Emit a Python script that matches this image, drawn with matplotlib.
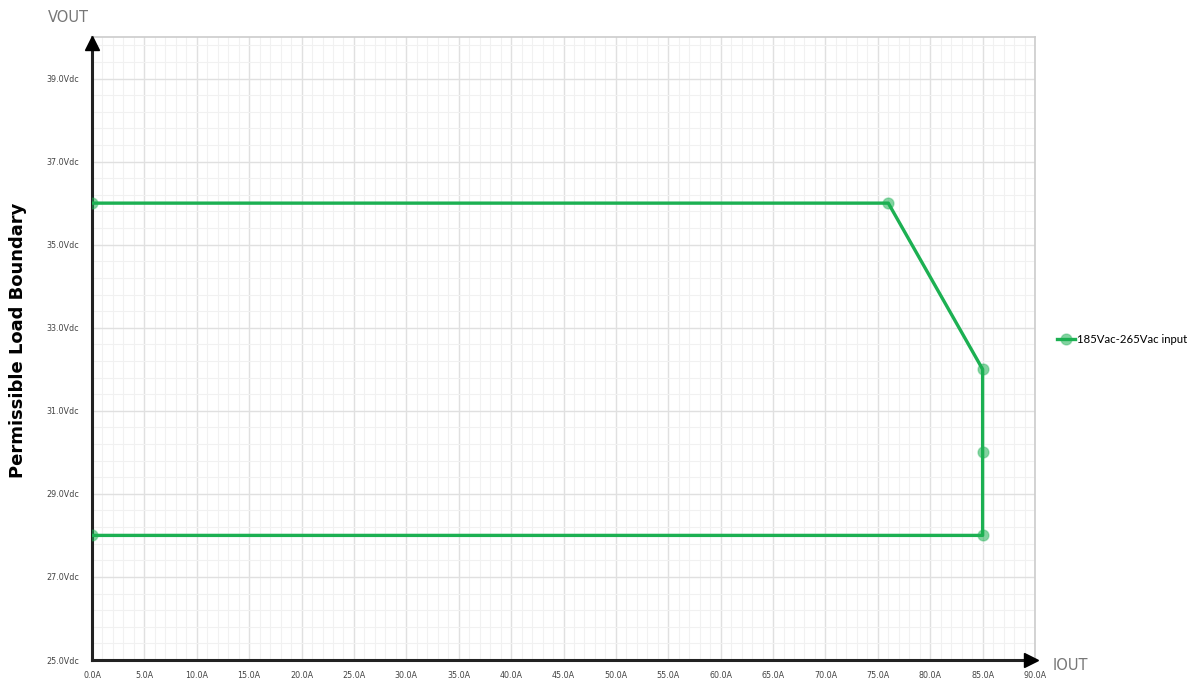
import matplotlib
matplotlib.use('Agg')
import matplotlib.pyplot as plt
import numpy as np

# boundary of the permissible load area
iout = [0.0, 76.0, 85.0, 85.0, 85.0, 0.0]
vout = [36.0, 36.0, 32.0, 30.0, 28.0, 28.0]
series_name = '185Vac-265Vac input'

x_ticks = [0, 5, 10, 15, 20, 25, 30, 35, 40, 45, 50, 55, 60, 65, 70, 75, 80, 85, 90]
y_ticks = [25, 27, 29, 31, 33, 35, 37, 39]
x_labels = ['%.1fA' % v for v in x_ticks]
y_labels = ['%.1fVdc' % v for v in y_ticks]

green = '#1cb052'

fig = plt.figure(figsize=(12.01, 6.79), dpi=100)
ax = fig.add_axes([92 / 1201, 1 - 660 / 679, (1035 - 92) / 1201, (660 - 37) / 679])

ax.plot(iout, vout, color=green, lw=2.4, marker='o', ms=8,
        markerfacecolor=(0.11, 0.69, 0.32, 0.55), markeredgecolor=(0.11, 0.69, 0.32, 0.3),
        label=series_name, zorder=3)

ax.set_xlim(0, 90)
ax.set_ylim(25, 40)
ax.set_xticks(x_ticks)
ax.set_xticklabels(x_labels)
ax.set_yticks(y_ticks)
ax.set_yticklabels(y_labels)
ax.set_xticks(np.arange(0, 91, 1), minor=True)
ax.set_yticks(np.arange(25, 40.01, 0.4), minor=True)
ax.tick_params(which='both', length=0)
ax.tick_params(axis='x', labelsize=5.8, colors='#444444', pad=8)
ax.tick_params(axis='y', labelsize=5.8, colors='#444444', pad=9)

ax.grid(which='major', color='#e0e0e0', lw=1.0)
ax.grid(which='minor', color='#f1f1f1', lw=0.8)
ax.set_axisbelow(True)

for s in ['top', 'right']:
    ax.spines[s].set_color('#cccccc')
    ax.spines[s].set_linewidth(1.2)
for s in ['left', 'bottom']:
    ax.spines[s].set_color('#222222')
    ax.spines[s].set_linewidth(2.2)

# arrow heads on the axes
ax.plot([0], [39.85], marker='^', ms=10, color='black', clip_on=False, zorder=5)
ax.plot([89.6], [25], marker='>', ms=10, color='black', clip_on=False, zorder=5)

fig.text(68 / 1201, 1 - 18 / 679, 'VOUT', fontsize=10.5, color='#777777', va='center', ha='center')
fig.text(1070 / 1201, 1 - 665 / 679, 'IOUT', fontsize=10.5, color='#777777', va='center', ha='center')
fig.text(18 / 1201, 1 - 340 / 679, 'Permissible Load Boundary', rotation=90,
         fontsize=13, fontweight='bold', va='center', ha='center')

ax.legend(loc='center left', bbox_to_anchor=(1.012, 0.515), frameon=False,
          prop={'family': 'Lato', 'size': 8.2}, handlelength=1.6, handletextpad=0.2)

fig.savefig('out.png', dpi=100)
